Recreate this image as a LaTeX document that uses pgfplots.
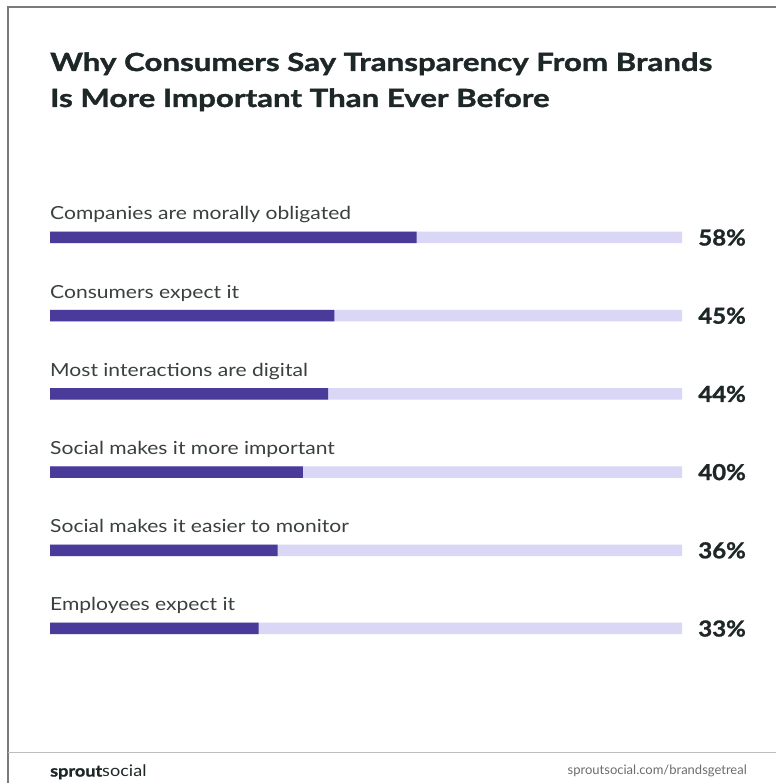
\documentclass[border=0pt]{standalone}
\usepackage{pgfplots}
\pgfplotsset{compat=1.18}
\usepackage{pgfplotstable}
\usepackage{fontspec}
\setmainfont{Lato}
\newfontfamily\titlefont[FakeStretch=1.25, BoldFeatures={FakeBold=1.4}]{Lato}
\newfontfamily\labelfont[FakeStretch=1.17]{Lato}
\newfontfamily\pctfont[FakeStretch=1.09, BoldFeatures={FakeBold=1.2}]{Lato}
\newfontfamily\footfont[FakeStretch=1.13, BoldFeatures={FakeBold=1.2}]{Lato}

\definecolor{barDark}{HTML}{4A3B9B}
\definecolor{barLight}{HTML}{D9D6F6}
\definecolor{titleInk}{HTML}{1E2727}
\definecolor{labelInk}{HTML}{3A4040}
\definecolor{frameGray}{HTML}{7A7A7A}
\definecolor{ruleGray}{HTML}{BDBDBD}

% row 5 = top bar
\pgfplotstableread{
row value
5 58
4 45
3 44
2 40
1 36
0 33
}\reasons

\begin{document}
\begin{tikzpicture}
\path[use as bounding box, fill=white] (0pt,0pt) rectangle (776pt,783pt);
% frame and footer rule
\draw[frameGray, line width=1.2pt] (8pt,0pt) -- (8pt,776pt) -- (776pt,776pt);
\draw[ruleGray, line width=1.6pt] (8pt,30.3pt) -- (776pt,30.3pt);

% title
\node[anchor=base west, inner sep=0pt, text=titleInk, font=\fontsize{25}{30}\titlefont\bfseries]
  at (50pt,712pt) {Why Consumers Say Transparency From Brands};
\node[anchor=base west, inner sep=0pt, text=titleInk, font=\fontsize{25}{30}\titlefont\bfseries]
  at (50pt,676pt) {Is More Important Than Ever Before};

% footer
\node[anchor=west, inner sep=0pt, text=titleInk, font=\fontsize{16}{18}\footfont]
  at (50pt,11pt) {\textbf{sprout}social};
\node[anchor=east, inner sep=0pt, text=gray!85!black, font=\fontsize{13}{15}\selectfont]
  at (747pt,12pt) {sproutsocial.com/brandsgetreal};

\begin{axis}[
    at={(50pt,115.4pt)}, anchor=south west,
    scale only axis,
    width=632pt, height=469.2pt,
    xmin=0, xmax=100,
    ymin=-0.5, ymax=5.5,
    hide axis,
    clip=false,
    xbar, bar width=11.5pt, bar shift=0pt,
]
\addplot[fill=barLight, draw=none] table[x expr=100, y=row] {\reasons};
\addplot[fill=barDark, draw=none] table[x=value, y=row] {\reasons};

\begin{scope}[every node/.style={inner sep=0pt}]
\node[anchor=base west, text=labelInk, font=\fontsize{18}{20}\labelfont] at ([yshift=17.5pt]axis cs:0,5) {Companies are morally obligated};
\node[anchor=base west, text=labelInk, font=\fontsize{18}{20}\labelfont] at ([yshift=17.5pt]axis cs:0,4) {Consumers expect it};
\node[anchor=base west, text=labelInk, font=\fontsize{18}{20}\labelfont] at ([yshift=17.5pt]axis cs:0,3) {Most interactions are digital};
\node[anchor=base west, text=labelInk, font=\fontsize{18}{20}\labelfont] at ([yshift=17.5pt]axis cs:0,2) {Social makes it more important};
\node[anchor=base west, text=labelInk, font=\fontsize{18}{20}\labelfont] at ([yshift=17.5pt]axis cs:0,1) {Social makes it easier to monitor};
\node[anchor=base west, text=labelInk, font=\fontsize{18}{20}\labelfont] at ([yshift=17.5pt]axis cs:0,0) {Employees expect it};

\node[anchor=base east, text=titleInk, font=\fontsize{22}{24}\pctfont\bfseries] at ([xshift=64pt,yshift=-8pt]axis cs:100,5) {58\%};
\node[anchor=base east, text=titleInk, font=\fontsize{22}{24}\pctfont\bfseries] at ([xshift=64pt,yshift=-8pt]axis cs:100,4) {45\%};
\node[anchor=base east, text=titleInk, font=\fontsize{22}{24}\pctfont\bfseries] at ([xshift=64pt,yshift=-8pt]axis cs:100,3) {44\%};
\node[anchor=base east, text=titleInk, font=\fontsize{22}{24}\pctfont\bfseries] at ([xshift=64pt,yshift=-8pt]axis cs:100,2) {40\%};
\node[anchor=base east, text=titleInk, font=\fontsize{22}{24}\pctfont\bfseries] at ([xshift=64pt,yshift=-8pt]axis cs:100,1) {36\%};
\node[anchor=base east, text=titleInk, font=\fontsize{22}{24}\pctfont\bfseries] at ([xshift=64pt,yshift=-8pt]axis cs:100,0) {33\%};
\end{scope}
\end{axis}
\end{tikzpicture}
\end{document}
